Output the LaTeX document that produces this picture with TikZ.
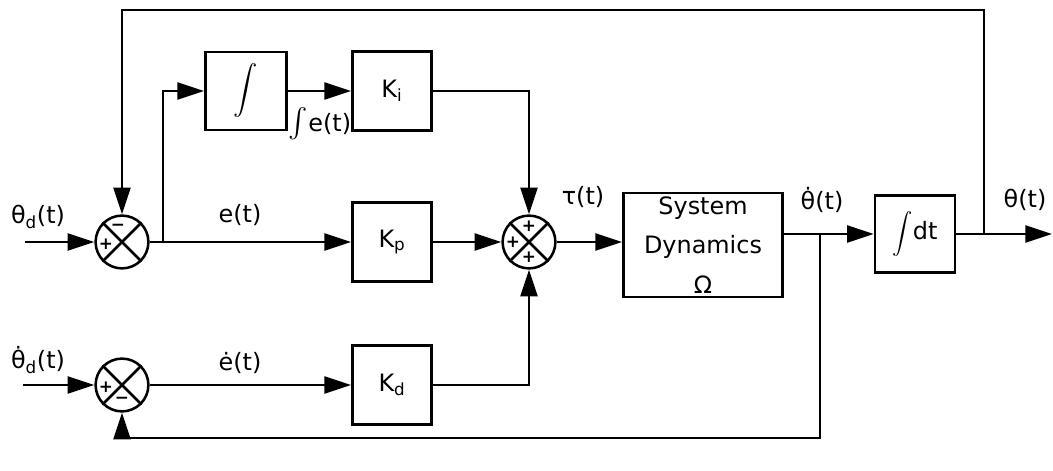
\documentclass[tikz,border=0pt]{standalone}
\usepackage{amsmath}
\usepackage{fontspec}
\setmainfont{DejaVu Sans}
\usetikzlibrary{arrows.meta}

\begin{document}
\begin{tikzpicture}[x=0.025cm,y=-0.025cm,
  every node/.style={font=\fontsize{17}{20}\selectfont},
  blk/.style={draw,line width=1.8pt,inner sep=0pt,minimum width=1.98cm,minimum height=1.98cm},
  sumj/.style={draw,circle,line width=1.8pt,minimum size=1.32cm,inner sep=0pt},
  sgn/.style={font=\fontsize{12}{12}\selectfont\bfseries,inner sep=0pt},
  sig/.style={line width=2pt},
  ar/.style={sig,-{Triangle[length=19pt,width=12pt]}}]
\useasboundingbox (0,0) rectangle (1053,471);
% summing junctions
\node[sumj] (sumP) at (122,242) {};
\node[sumj] (sumD) at (122,385) {};
\node[sumj] (add) at (529,242) {};
\draw[line width=1.8pt] (sumP.45) -- (sumP.225) (sumP.135) -- (sumP.315);
\draw[line width=1.8pt] (sumD.45) -- (sumD.225) (sumD.135) -- (sumD.315);
\draw[line width=1.8pt] (add.45) -- (add.225) (add.135) -- (add.315);
\node[sgn] (sPa) at ([shift={(-16,2)}]sumP.center) {+};
\node[sgn] (sPb) at ([shift={(-4,-15)}]sumP.center) {−};
\node[sgn] (sDa) at ([shift={(-16,2)}]sumD.center) {+};
\node[sgn] (sDb) at ([shift={(0,15)}]sumD.center) {−};
\node[sgn] (sAa) at ([shift={(0,-16)}]add.center) {+};
\node[sgn] (sAb) at ([shift={(-16,0)}]add.center) {+};
\node[sgn] (sAc) at ([shift={(0,15)}]add.center) {+};
% blocks
\node[blk,minimum width=2.03cm,minimum height=1.95cm] (int) at (246,91) {\fontsize{19}{19}\selectfont$\displaystyle\int$};
\node[blk] (ki) at (392,91) {K\textsubscript{i}};
\node[blk] (kp) at (392,242) {K\textsubscript{p}};
\node[blk] (kd) at (392,385) {K\textsubscript{d}};
\node[blk,minimum width=3.98cm,minimum height=2.6cm,align=center,font=\fontsize{17}{28}\selectfont] (sd) at (703,245) {System\\Dynamics\\Ω};
\node[blk,minimum width=2cm,minimum height=1.93cm] (intdt) at (915,234) {{\fontsize{15}{15}\selectfont$\displaystyle\int$}dt};
% labels
\node (lthd) at (38,217) {θ\textsubscript{d}(t)};
\node (ldthd) at (38,360) {\.{θ}\textsubscript{d}(t)};
\node (le) at (240,215) {e(t)};
\node (lde) at (240,363) {\.{e}(t)};
\node (lie) at (320,124) {{\fontsize{22}{22}\selectfont$\int$}e(t)};
\node (ltau) at (583,197) {τ(t)};
\node (ldth) at (822,200) {\.{θ}(t)};
\node (lth) at (1025,200) {θ(t)};
% end points
\coordinate (in1) at (25,242);
\coordinate (in2) at (23,385);
\coordinate (out) at (1052,234);
\coordinate (brE) at (163,242);
\coordinate (brV) at (820,234);
\coordinate (brT) at (984,234);
\coordinate (fbT) at (984,10);
\coordinate (fbB) at (820,438);
% signals
\draw[ar] (in1) -- (sumP);
\draw[ar] (sumP) -- (kp);
\draw[ar] (brE) |- (int);
\draw[ar] (int) -- (ki);
\draw[ar] (ki) -| (add);
\draw[ar] (kp) -- (add);
\draw[ar] (in2) -- (sumD);
\draw[ar] (sumD) -- (kd);
\draw[ar] (kd) -| (add);
\draw[ar] (add) -- (add -| sd.west);
\draw[ar] (sd.east |- intdt) -- (intdt);
\draw[ar] (intdt) -- (out);
\draw[ar] (brT) -- (fbT) -| (sumP);
\draw[ar] (brV) -- (fbB) -| (sumD);
\end{tikzpicture}
\end{document}
